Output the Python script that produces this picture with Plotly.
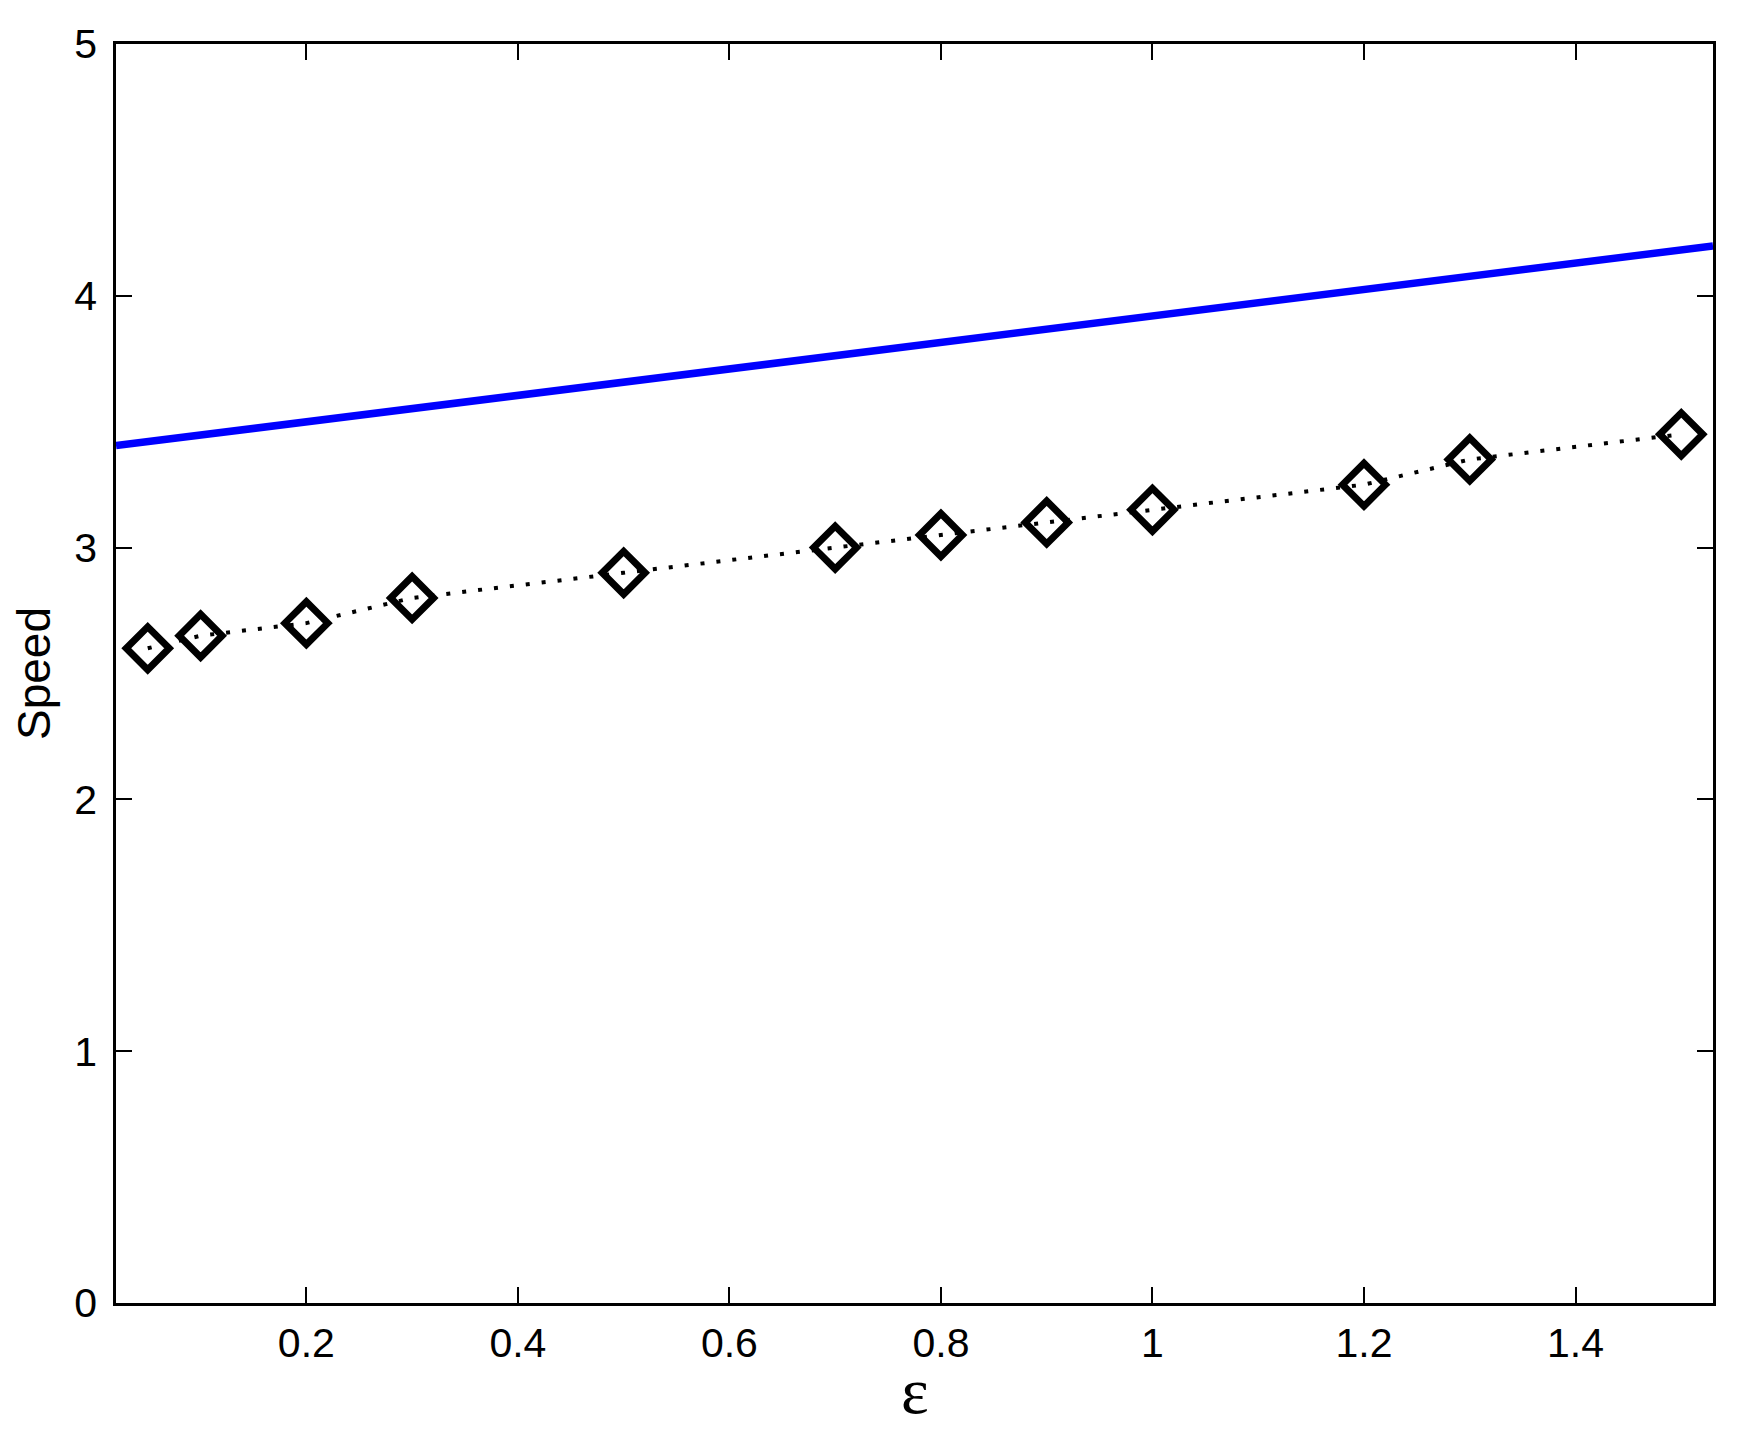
import plotly.graph_objects as go

# Data
eps_points = [0.05, 0.1, 0.2, 0.3, 0.5, 0.7, 0.8, 0.9, 1.0, 1.2, 1.3, 1.5]
speed_points = [2.6, 2.65, 2.7, 2.8, 2.9, 3.0, 3.05, 3.1, 3.15, 3.25, 3.35, 3.45]
eps_line = [0.02, 1.53]
speed_line = [3.405, 4.198]
x_ticks = [0.2, 0.4, 0.6, 0.8, 1.0, 1.2, 1.4]
x_ticklabels = ["0.2", "0.4", "0.6", "0.8", "1", "1.2", "1.4"]
y_ticks = [0, 1, 2, 3, 4, 5]

fig = go.Figure()
fig.add_trace(go.Scatter(
    x=eps_line, y=speed_line, mode="lines",
    line=dict(color="#0000ff", width=7.5),
    showlegend=False, hoverinfo="skip"))
fig.add_trace(go.Scatter(
    x=eps_points, y=speed_points, mode="lines+markers",
    line=dict(color="black", width=4, dash="4px,12px"),
    marker=dict(symbol="diamond-open", size=33, color="black",
                line=dict(color="black", width=7)),
    showlegend=False))

axis_common = dict(
    showline=True, linecolor="black", linewidth=2.5, mirror="ticks",
    ticks="inside", ticklen=16, tickwidth=2, tickcolor="black",
    showgrid=False, zeroline=False,
    tickfont=dict(family="Liberation Sans, Arial, sans-serif", size=41, color="black"),
)

fig.update_xaxes(
    range=[0.02, 1.53], tickvals=x_ticks, ticktext=x_ticklabels,
    ticklabelstandoff=2,
    **axis_common)
fig.update_yaxes(
    range=[0, 5], tickvals=y_ticks,
    ticklabelstandoff=8,
    title=dict(text="Speed", font=dict(family="Liberation Sans, Arial, sans-serif",
                                       size=46, color="black"), standoff=17),
    **axis_common)

# x-axis title (epsilon) placed as annotation for precise positioning
fig.add_annotation(
    text="ε", xref="paper", yref="paper", x=0.5, y=0,
    xanchor="center", yanchor="middle", yshift=-87, showarrow=False,
    font=dict(family="Liberation Serif, Times New Roman, serif", size=66, color="black"))

fig.update_layout(
    width=1742, height=1429,
    margin=dict(l=108, r=37, t=36, b=134, autoexpand=False),
    paper_bgcolor="white", plot_bgcolor="white",
)

fig.write_html("out.html")
